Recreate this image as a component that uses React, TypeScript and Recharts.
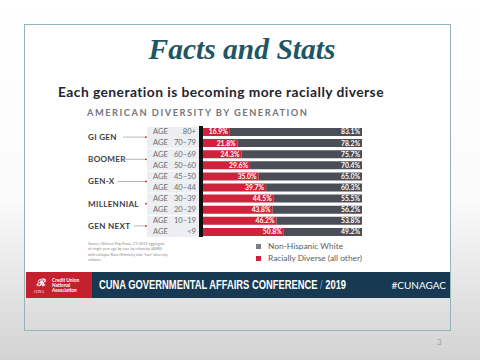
import React from "react";
import { BarChart, Bar, XAxis, YAxis, LabelList } from "recharts";

const ageRanges = ["80+", "70–79", "60–69", "50–60", "45–50", "40–44", "30–39", "20–29", "10–19", "<9"];
const diverse = [16.9, 21.8, 24.3, 29.6, 35.0, 39.7, 44.5, 43.8, 46.2, 50.8];
const white = [83.1, 78.2, 75.7, 70.4, 65.0, 60.3, 55.5, 56.2, 53.8, 49.2];
const generations = ["GI GEN", "BOOMER", "GEN-X", "MILLENNIAL", "GEN NEXT"];

const data = ageRanges.map((age, i) => ({
  age,
  diverse: diverse[i],
  white: white[i],
}));

const RED = "#d0223a";
const GRAY = "#4b4e56";
const SANS = "Lato, 'Open Sans', sans-serif";

const CHART_LEFT = 80;
const CHART_TOP = 126;
const CHART_W = 282;
const CHART_H = 111;
const AXIS_W = 123;
const PITCH = CHART_H / ageRanges.length;

const AgeTick = (props: any) => {
  const { x, y, payload, index } = props;
  const top = y - PITCH / 2;
  const gen = index % 2 === 0 ? generations[index / 2] : null;
  return (
    <g>
      <rect x={x - 56} y={top + (index % 2 === 0 ? 1 : 0)} width={52} height={PITCH - (index % 2 === 0 ? 1 : 0)} fill="#eceef1" />
      <rect x={x - 4} y={top} width={4} height={PITCH + 0.5} fill="#111" />
      <text x={x - 50} y={y + 2.8} fontSize={7.6} fill="#6b6e74" fontFamily={SANS}>AGE</text>
      <text x={x - 7} y={y + 2.8} fontSize={7.6} fill="#6b6e74" fontFamily={SANS} textAnchor="end">{payload.value}</text>
      {gen && (
        <g>
          <text x={x - 115} y={y + PITCH / 2 + 2.9} fontSize={8.1} fontWeight={700} fill="#3b3e46" fontFamily={SANS} letterSpacing={0.3}>{gen}</text>
          <line x1={x - 115 + gen.length * 5.5 + 2} x2={x - 57} y1={y + PITCH / 2} y2={y + PITCH / 2} stroke="#9a9a9a" strokeWidth={0.7} />
          <circle cx={x - 57} cy={y + PITCH / 2} r={0.9} fill={RED} />
        </g>
      )}
    </g>
  );
};

const pct = (v: any) => `${Number(v).toFixed(1)}%`;

export default function App() {
  return (
    <div
      style={{
        position: "absolute",
        left: 0,
        top: 0,
        width: 480,
        height: 360,
        overflow: "hidden",
        background: "linear-gradient(to bottom, #ffffff 0%, #fbfbfb 55%, #e0e0e0 85%, #d3d3d3 100%)",
        fontFamily: SANS,
      }}
    >
      <div style={{ position: "absolute", left: 25, top: 25, width: 426, height: 248, background: "#ffffff" }} />
      <div style={{ position: "absolute", left: 24, top: 24, width: 427, height: 307, border: "1px solid #93b5ba", boxSizing: "border-box" }} />

      <div style={{ position: "absolute", left: 0, width: 484, top: 32, textAlign: "center", fontFamily: "'Liberation Serif', serif", fontStyle: "italic", fontWeight: 700, fontSize: 29.5, color: "#1f5666", lineHeight: "34px" }}>
        Facts and Stats
      </div>
      <div style={{ position: "absolute", left: 58, top: 84, fontSize: 13.8, fontWeight: 700, color: "#1d2630", lineHeight: "16px", whiteSpace: "nowrap", letterSpacing: 0.45 }}>
        Each generation is becoming more racially diverse
      </div>
      <div style={{ position: "absolute", left: 87, top: 107, fontSize: 9.3, fontWeight: 700, color: "#74767b", letterSpacing: 1.5, lineHeight: "11px", whiteSpace: "nowrap" }}>
        AMERICAN DIVERSITY BY GENERATION
      </div>

      <div style={{ position: "absolute", left: CHART_LEFT, top: CHART_TOP }}>
        <BarChart width={CHART_W} height={CHART_H} data={data} layout="vertical" margin={{ top: 0, right: 0, bottom: 0, left: 0 }} barCategoryGap={2}>
          <XAxis type="number" domain={[0, 100]} hide />
          <YAxis type="category" dataKey="age" width={AXIS_W} axisLine={false} tickLine={false} tickSize={0} tickMargin={0} tick={<AgeTick />} interval={0} />
          <Bar dataKey="diverse" stackId="a" fill={RED} barSize={8} isAnimationActive={false}>
            <LabelList dataKey="diverse" position="insideRight" formatter={pct} fill="#ffffff" fontSize={6.8} fontWeight={700} fontFamily={SANS} offset={2} />
          </Bar>
          <Bar dataKey="white" stackId="a" fill={GRAY} barSize={8} isAnimationActive={false}>
            <LabelList dataKey="white" position="insideRight" formatter={pct} fill="#ffffff" fontSize={6.8} fontWeight={700} fontFamily={SANS} offset={2} />
          </Bar>
        </BarChart>
      </div>

      <div style={{ position: "absolute", left: 88, top: 241, width: 80, fontSize: 3.8, lineHeight: "5.3px", color: "#8a8a8a" }}>
        Source: Nielsen Pop-Facts, CY 2019 aggregate of single year age by race by ethnicity (ASRE) with collapse Race/Ethnicity into "non" diversity cohorts.
      </div>

      <div style={{ position: "absolute", left: 256, top: 244, width: 5, height: 5, background: "#7b7e84" }} />
      <div style={{ position: "absolute", left: 268, top: 241, fontSize: 8.4, color: "#5a5d62", lineHeight: "10px", whiteSpace: "nowrap" }}>Non-Hispanic White</div>
      <div style={{ position: "absolute", left: 256, top: 256, width: 5, height: 5, background: RED }} />
      <div style={{ position: "absolute", left: 268, top: 253, fontSize: 8.4, color: "#5a5d62", lineHeight: "10px", whiteSpace: "nowrap" }}>Racially Diverse (all other)</div>

      <div style={{ position: "absolute", left: 26, top: 272, width: 424, height: 26, background: "#173a52" }} />
      <div style={{ position: "absolute", left: 26, top: 272, width: 66, height: 26, background: "#c5202e" }} />
      <div style={{ position: "absolute", left: 37, top: 277, fontSize: 10, color: "#fff", lineHeight: "10px", fontWeight: 700 }}>ℛ</div>
      <div style={{ position: "absolute", left: 34, top: 290, fontSize: 3.5, color: "#fff", lineHeight: "4px", fontFamily: "'Liberation Serif', serif" }}>CUNA</div>
      <div style={{ position: "absolute", left: 52, top: 278, fontSize: 4.8, color: "#fff", lineHeight: "5px", fontWeight: 700, whiteSpace: "nowrap" }}>
        Credit Union<br />National<br />Association
      </div>
      <div style={{ position: "absolute", left: 99, top: 278, whiteSpace: "nowrap", fontFamily: "'Liberation Sans', sans-serif", fontWeight: 700, fontSize: 12, color: "#fff", lineHeight: "14px", transform: "scaleX(0.78)", transformOrigin: "left center" }}>
        CUNA GOVERNMENTAL AFFAIRS CONFERENCE <span style={{ color: "#5aa9d6", fontWeight: 400 }}>/</span> 2019
      </div>
      <div style={{ position: "absolute", right: 34, top: 279, fontSize: 10, color: "#fff", lineHeight: "12px", whiteSpace: "nowrap" }}>#CUNAGAC</div>

      <div style={{ position: "absolute", left: 437, top: 337, fontSize: 8, color: "#a0a0a0" }}>3</div>
    </div>
  );
}
